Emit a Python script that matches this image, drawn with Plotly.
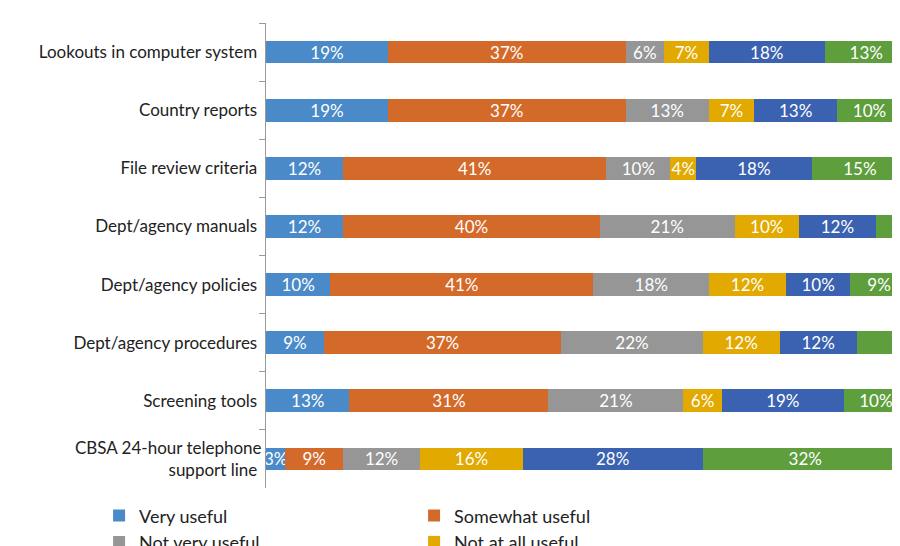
import plotly.graph_objects as go

categories = ["Lookouts in computer system", "Country reports", "File review criteria",
              "Dept/agency manuals", "Dept/agency policies", "Dept/agency procedures",
              "Screening tools", "CBSA 24-hour telephone<br>support line"]
series = ["Very useful", "Somewhat useful", "Not very useful",
          "Not at all useful", "Not applicable to my work", "Don't know"]
values = [
    [19, 19, 12, 12, 10, 9, 13, 3],
    [37, 37, 41, 40, 41, 37, 31, 9],
    [6, 13, 10, 21, 18, 22, 21, 12],
    [7, 7, 4, 10, 12, 12, 6, 16],
    [18, 13, 18, 12, 10, 12, 19, 28],
    [13, 10, 15, 6, 9, 9, 10, 32],
]
colors = ["#4A8AC8", "#D46A2A", "#969696", "#E2A900", "#3A62B0", "#5E9E3C"]

fig = go.Figure()
for name, vals, c in zip(series, values, colors):
    fig.add_trace(go.Bar(
        y=categories, x=vals, name=name, orientation="h", marker_color=c,
        marker_line_width=0, width=0.39,
        text=[f"{v}%" for v in vals], textposition="inside", insidetextanchor="middle",
        textangle=0, textfont=dict(color="white", size=17), constraintext="none",
        cliponaxis=False))

fig.update_layout(
    barmode="stack", width=900, height=546, plot_bgcolor="white", paper_bgcolor="white",
    margin=dict(l=258, r=0, t=15, b=66, autoexpand=False),
    font=dict(family="Lato, Open Sans, sans-serif", size=17, color="#222"),
    uniformtext=dict(mode="show", minsize=10),
    xaxis=dict(range=[0, 100], visible=False),
    yaxis=dict(autorange="reversed", showline=True, linecolor="#999", ticks="outside",
               tickson="boundaries", ticklen=6, tickcolor="#999", ticksuffix=" ",
               tickfont=dict(size=17)),
    legend=dict(orientation="h", x=-0.26, xanchor="left", y=-0.02, yanchor="top",
                entrywidth=270, entrywidthmode="pixels", font=dict(size=18),
                traceorder="normal", itemwidth=30, tracegroupgap=0),
    showlegend=True,
)
fig.write_html("out.html")
